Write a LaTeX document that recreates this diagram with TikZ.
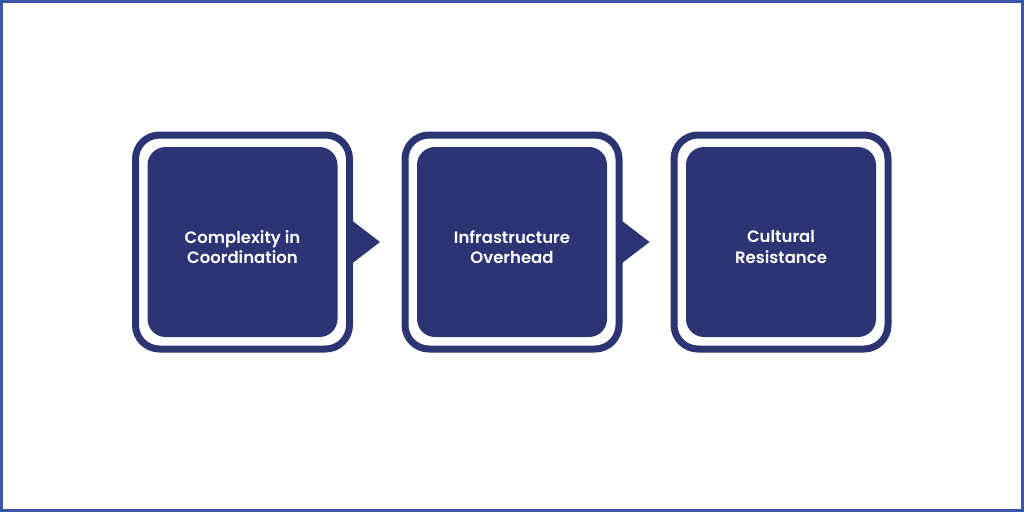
\documentclass[tikz,border=0pt]{standalone}
\usepackage{fontspec}
\setmainfont{Poppins}[BoldFont={Poppins SemiBold}]
\usetikzlibrary{calc}
\definecolor{navy}{HTML}{2C3474}
\definecolor{frameblue}{HTML}{3B56A8}
\tikzset{
  ring/.style={draw=navy, line width=7pt, rounded corners=24pt, minimum width=214pt, minimum height=214pt, inner sep=0pt},
  core/.style={fill=navy, rounded corners=18pt, minimum width=190pt, minimum height=190pt, inner sep=0pt},
  label/.style={text=white, align=center, inner sep=0pt, font=\fontsize{16.5}{20.5}\selectfont\bfseries},
  pointer/.style={fill=navy}
}
\begin{document}
\begin{tikzpicture}[x=1pt,y=-1pt]
\useasboundingbox (0,0) rectangle (1024,512);
\fill[white] (0,0) rectangle (1024,512);
\draw[frameblue, line width=3pt] (1.5,1.5) rectangle (1022.5,510.5);
\node[ring] (o1) at (242.5,242) {};
\node[ring] (o2) at (512,242) {};
\node[ring] (o3) at (781,242) {};
\node[core] (c1) at (o1.center) {};
\node[core] (c2) at (o2.center) {};
\node[core] (c3) at (o3.center) {};
\node[label] (t1) at ($(c1.center)+(0,5)$) {Complexity in\\Coordination};
\node[label] (t2) at ($(c2.center)+(0,5)$) {Infrastructure\\Overhead};
\node[label] (t3) at ($(c3.center)+(0,5)$) {Cultural\\Resistance};
\fill[pointer] ($(o1.east)+(-3,-23)$) -- ($(o1.east)+(27,0)$) -- ($(o1.east)+(-3,23)$) -- cycle;
\fill[pointer] ($(o2.east)+(-3,-23)$) -- ($(o2.east)+(27,0)$) -- ($(o2.east)+(-3,23)$) -- cycle;
\end{tikzpicture}
\end{document}
